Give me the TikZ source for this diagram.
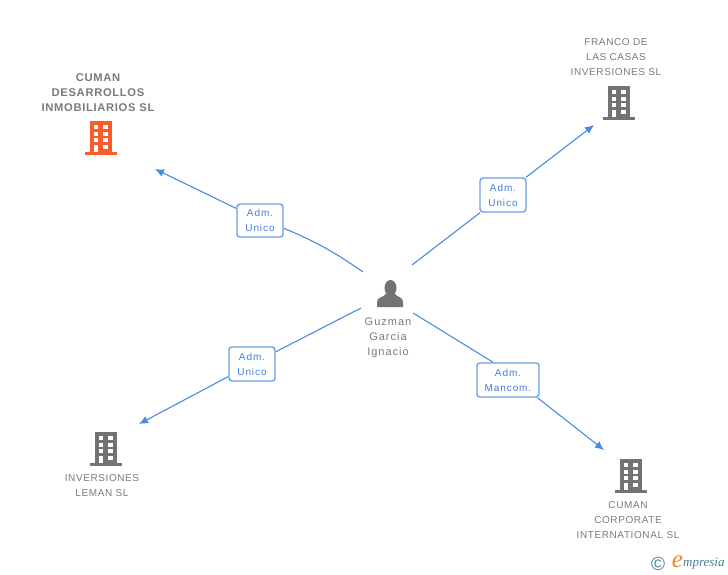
\documentclass[tikz,border=0pt]{standalone}
\usepackage{fontspec}
\usetikzlibrary{arrows.meta,backgrounds}
\setmainfont{Liberation Sans}
\newfontfamily\labelfont[LetterSpace=6]{Liberation Sans}
\newfontfamily\spacedfont[LetterSpace=9]{Liberation Sans}
\newfontfamily\logofont{Liberation Serif}
\definecolor{linkblue}{HTML}{4A8BE0}
\definecolor{boxblue}{HTML}{6C9FE6}
\definecolor{admblue}{HTML}{3F7FDC}
\definecolor{icongray}{HTML}{737373}
\definecolor{textgray}{HTML}{7A7A7A}
\definecolor{iconorange}{HTML}{FF5A2C}
\definecolor{logoteal}{HTML}{3E7F96}
\definecolor{logoorange}{HTML}{F08A1E}
\tikzset{
    link/.style={draw=linkblue,line width=1.1pt},
    linkarrow/.style={link,-{Latex[length=9pt,width=8pt]}},
    admbox/.style={draw=boxblue,line width=1.4pt,fill=white,rounded corners=3pt,inner sep=0pt,
        text=admblue,align=center,font=\spacedfont\fontsize{10}{15}\selectfont},
    entity/.style={text=textgray,align=center,inner sep=0pt,font=\labelfont\fontsize{10}{15}\selectfont},
    building/.pic={
        \fill (-11,0) rectangle (11,-34);
        \fill (-16,0) rectangle (16,-3);
        \foreach \row in {-30,-23,-17,-10}{
            \fill[white] (-7.5,\row) rectangle (-3,\row+4);
            \fill[white] (2,\row) rectangle (7,\row+4);
        }
        \fill[white] (-7.5,-10) rectangle (-3,-3);
    }
}
\begin{document}
\begin{tikzpicture}[x=1pt,y=-1pt]
        \useasboundingbox (0,0) rectangle (728,575);
        %% Person
        \fill[icongray] (377,307) -- (377,302) .. controls (377,297) and (384,297) .. (386,294)
            -- (395,294) .. controls (397,297) and (403,297) .. (403,302) -- (403,307) -- cycle;
        \fill[icongray] (390.5,288) ellipse (6 and 8);
        \node[entity,font=\spacedfont\fontsize{11}{15}\selectfont] (guzman) at (388,337.5) {Guzman\\Garcia\\Ignacio};
        %% Companies
        \pic[color=iconorange] at (101,155) {building};
        \pic[color=icongray] at (619,120) {building};
        \pic[color=icongray] at (106,466) {building};
        \pic[color=icongray] at (631,493) {building};
        \node[entity,font=\labelfont\bfseries\fontsize{11.2}{15}\selectfont] (desarrollos) at (98,93) {CUMAN\\DESARROLLOS\\INMOBILIARIOS SL};
        \node[entity] (franco) at (616,57) {FRANCO DE\\LAS CASAS\\INVERSIONES SL};
        \node[entity] (leman) at (102,485.5) {INVERSIONES\\LEMAN SL};
        \node[entity] (corporate) at (628,520) {CUMAN\\CORPORATE\\INTERNATIONAL SL};
        %% Role boxes
        \node[admbox,minimum width=46pt,minimum height=33pt] (admA) at (260,220.5) {Adm.\\Unico};
        \node[admbox,minimum width=46pt,minimum height=34pt] (admB) at (503,195) {Adm.\\Unico};
        \node[admbox,minimum width=46pt,minimum height=34pt] (admC) at (252,364) {Adm.\\Unico};
        \node[admbox,minimum width=62pt,minimum height=34pt] (admD) at (508,380) {Adm.\\Mancom.};
        %% Line ends
        \coordinate (startA) at (363,272);
        \coordinate (startB) at (412,265);
        \coordinate (startC) at (361,308);
        \coordinate (startD) at (413,313);
        \coordinate (endA) at (155,169);
        \coordinate (endB) at (594,125);
        \coordinate (endC) at (139,424);
        \coordinate (endD) at (604,450);
        %% Connectors
        \begin{scope}[on background layer]
            \draw[link] (startA) to[bend right=6] (admA.-18);
            \draw[linkarrow] (admA.153) -- (endA);
            \draw[link] (startB) -- (admB);
            \draw[linkarrow] (admB) -- (endB);
            \draw[link] (startC) -- (admC);
            \draw[linkarrow] (admC) -- (endC);
            \draw[link] (startD) -- (admD.130);
            \draw[linkarrow] (admD.-31) -- (endD);
        \end{scope}
        %% Logo
        \node[text=logoteal,inner sep=0pt,font=\fontsize{19}{19}\selectfont] (copyright) at (658,564) {©};
        \node[text=logoorange,inner sep=0pt,font=\logofont\itshape\fontsize{25}{25}\selectfont] (logoe) at (677.5,562) {e};
        \node[text=logoteal,inner sep=0pt,anchor=west,font=\logofont\itshape\fontsize{13}{13}\selectfont] (logotext) at (683,564) {mpresia};
    \end{tikzpicture}
\end{document}
